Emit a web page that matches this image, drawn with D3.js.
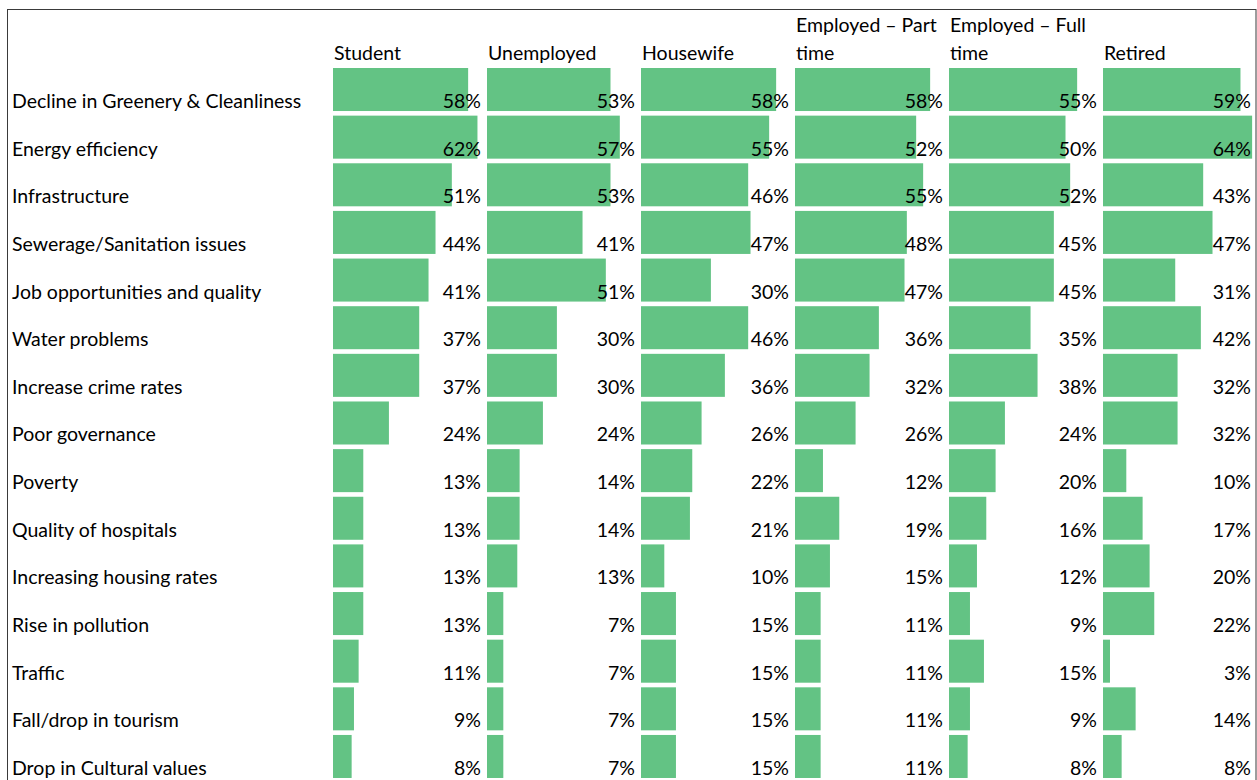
<!DOCTYPE html>
<html>
<head>
<meta charset="utf-8">
<script src="https://cdn.jsdelivr.net/npm/d3@7"></script>
<style>
  html, body { margin: 0; padding: 0; background: #fff; }
  svg { display: block; }
  text { font-family: Lato, "Open Sans", sans-serif; fill: #000; }
</style>
</head>
<body>
<svg id="chart" width="1257" height="780"></svg>
<script>
// Respondent groups (column headers, split over two lines where needed)
const groups = ["Student", "Unemployed", "Housewife", "Employed – Part time", "Employed – Full time", "Retired"];
const groupLines = [["", "Student"], ["", "Unemployed"], ["", "Housewife"],
                    ["Employed – Part", "time"], ["Employed – Full", "time"], ["", "Retired"]];

// Concerns (rows)
const issues = [
  "Decline in Greenery & Cleanliness",
  "Energy efficiency",
  "Infrastructure",
  "Sewerage/Sanitation issues",
  "Job opportunities and quality",
  "Water problems",
  "Increase crime rates",
  "Poor governance",
  "Poverty",
  "Quality of hospitals",
  "Increasing housing rates",
  "Rise in pollution",
  "Traffic",
  "Fall/drop in tourism",
  "Drop in Cultural values"
];

// Share of respondents (%) per group, in row order
const student    = [58, 62, 51, 44, 41, 37, 37, 24, 13, 13, 13, 13, 11, 9, 8];
const unemployed = [53, 57, 53, 41, 51, 30, 30, 24, 14, 14, 13, 7, 7, 7, 7];
const housewife  = [58, 55, 46, 47, 30, 46, 36, 26, 22, 21, 10, 15, 15, 15, 15];
const partTime   = [58, 52, 55, 48, 47, 36, 32, 26, 12, 19, 15, 11, 11, 11, 11];
const fullTime   = [55, 50, 52, 45, 45, 35, 38, 24, 20, 16, 12, 9, 15, 9, 8];
const retired    = [59, 64, 43, 47, 31, 42, 32, 32, 10, 17, 20, 22, 3, 14, 8];

const seriesValues = [student, unemployed, housewife, partTime, fullTime, retired];

const cells = [];
groups.forEach((g, gi) => {
  issues.forEach((iss, ii) => {
    cells.push({ group: g, issue: iss, value: seriesValues[gi][ii] });
  });
});

const svg = d3.select("#chart");
const fontSize = 19.5;

// Outer frame
svg.append("rect")
  .attr("x", 7.5).attr("y", 9.5)
  .attr("width", 1248.5).attr("height", 800)
  .attr("fill", "none")
  .attr("stroke", "#3a3a3a")
  .attr("stroke-width", 1);

// Scales
const rowStep = 47.64;
const y = d3.scaleBand()
  .domain(issues)
  .range([68 - 0.0485 * rowStep, 68 - 0.0485 * rowStep + rowStep * issues.length])
  .paddingInner(0.097)
  .paddingOuter(0.0485);

const colStep = 154;
const x = d3.scaleBand()
  .domain(groups)
  .range([333, 333 + colStep * groups.length]);

const barLen = d3.scaleLinear().domain([0, 100]).range([0, 233]);
const labelRight = 148;

// Column headers
const headers = svg.append("g").attr("class", "headers");
groups.forEach((g, gi) => {
  const t = headers.append("text")
    .attr("x", x(g) + 1)
    .attr("font-size", fontSize);
  groupLines[gi].forEach((line, li) => {
    if (line) {
      t.append("tspan").attr("x", x(g) + 1).attr("y", 32 + li * 28).text(line);
    }
  });
});

// Row labels
svg.append("g").attr("class", "row-labels")
  .selectAll("text")
  .data(issues)
  .join("text")
  .attr("x", 12)
  .attr("y", d => y(d) + 40)
  .attr("font-size", fontSize)
  .text(d => d);

// Data bars
const cellG = svg.append("g").attr("class", "cells");
cellG.selectAll("rect")
  .data(cells)
  .join("rect")
  .attr("x", d => x(d.group))
  .attr("y", d => y(d.issue))
  .attr("width", d => barLen(d.value))
  .attr("height", y.bandwidth())
  .attr("fill", "#63C384");

// Value labels, right-aligned in each cell
cellG.selectAll("text")
  .data(cells)
  .join("text")
  .attr("x", d => x(d.group) + labelRight)
  .attr("y", d => y(d.issue) + 40)
  .attr("text-anchor", "end")
  .attr("font-size", fontSize)
  .text(d => d.value + "%");
</script>
</body>
</html>
